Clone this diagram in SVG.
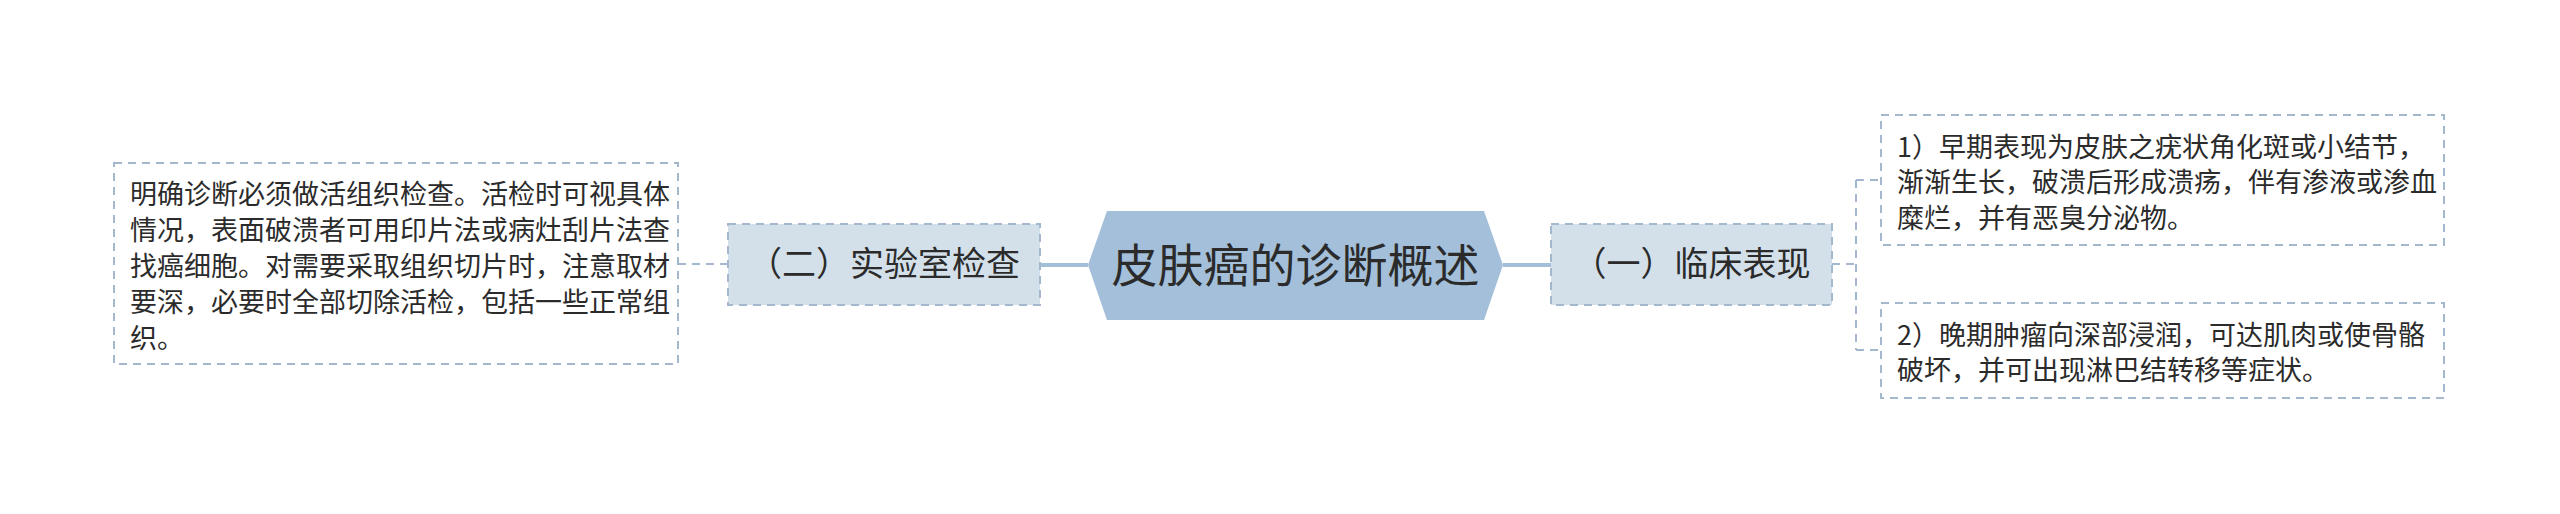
<svg xmlns="http://www.w3.org/2000/svg" width="2560" height="514" viewBox="0 0 2560 514">
<style>
.t{font-family:"Noto Sans CJK SC","Noto Sans",sans-serif;fill:#2b2b2b}
.box{fill:#ffffff;stroke:#a3b8cc;stroke-width:2;stroke-dasharray:8 6}
.sub{fill:#d3e0ea;stroke:#a3b8cc;stroke-width:2;stroke-dasharray:8 6}
.dl{fill:none;stroke:#a3b8cc;stroke-width:2;stroke-dasharray:8 6}
.sl{fill:none;stroke:#a3bfd9;stroke-width:4}
.body{font-size:27px}
.lab{font-size:34px}
</style>
<rect width="2560" height="514" fill="#ffffff"/>
<g id="connectors">
<line class="sl" x1="1040" y1="265" x2="1088" y2="265"/>
<line class="sl" x1="1503" y1="265" x2="1551" y2="265"/>
<line class="dl" x1="678" y1="264" x2="728" y2="264"/>
<path class="dl" d="M1832 264 H1856 M1856 180 V350 M1856 180 H1881 M1856 350 H1881"/>
</g>
<g id="root">
<polygon points="1088,265 1107,211 1484,211 1503,265 1484,320 1107,320" fill="#a3bfd9"/>
<text class="t" x="1295.5" y="282" font-size="46" text-anchor="middle">皮肤癌的诊断概述</text>
</g>
<g id="lab">
<rect class="sub" x="728" y="224" width="312" height="81"/>
<text class="t lab" x="884" y="276" text-anchor="middle">（二）实验室检查</text>
</g>
<g id="lab-detail">
<rect class="box" x="114" y="163" width="564" height="201"/>
<text class="t body">
<tspan x="130" y="203.5">明确诊断必须做活组织检查。活检时可视具体</tspan>
<tspan x="130" y="239.5">情况，表面破溃者可用印片法或病灶刮片法查</tspan>
<tspan x="130" y="275.5">找癌细胞。对需要采取组织切片时，注意取材</tspan>
<tspan x="130" y="311.5">要深，必要时全部切除活检，包括一些正常组</tspan>
<tspan x="130" y="347.5">织。</tspan>
</text>
</g>
<g id="clinical">
<rect class="sub" x="1551" y="224" width="281" height="81"/>
<text class="t lab" x="1691.5" y="276" text-anchor="middle">（一）临床表现</text>
</g>
<g id="early">
<rect class="box" x="1881" y="115" width="563" height="130"/>
<text class="t body">
<tspan x="1897" y="156.5">1）早期表现为皮肤之疣状角化斑或小结节，</tspan>
<tspan x="1897" y="192">渐渐生长，破溃后形成溃疡，伴有渗液或渗血</tspan>
<tspan x="1897" y="227.5">糜烂，并有恶臭分泌物。</tspan>
</text>
</g>
<g id="late">
<rect class="box" x="1881" y="303" width="563" height="95"/>
<text class="t body">
<tspan x="1897" y="344.5">2）晚期肿瘤向深部浸润，可达肌肉或使骨骼</tspan>
<tspan x="1897" y="380">破坏，并可出现淋巴结转移等症状。</tspan>
</text>
</g>
</svg>
